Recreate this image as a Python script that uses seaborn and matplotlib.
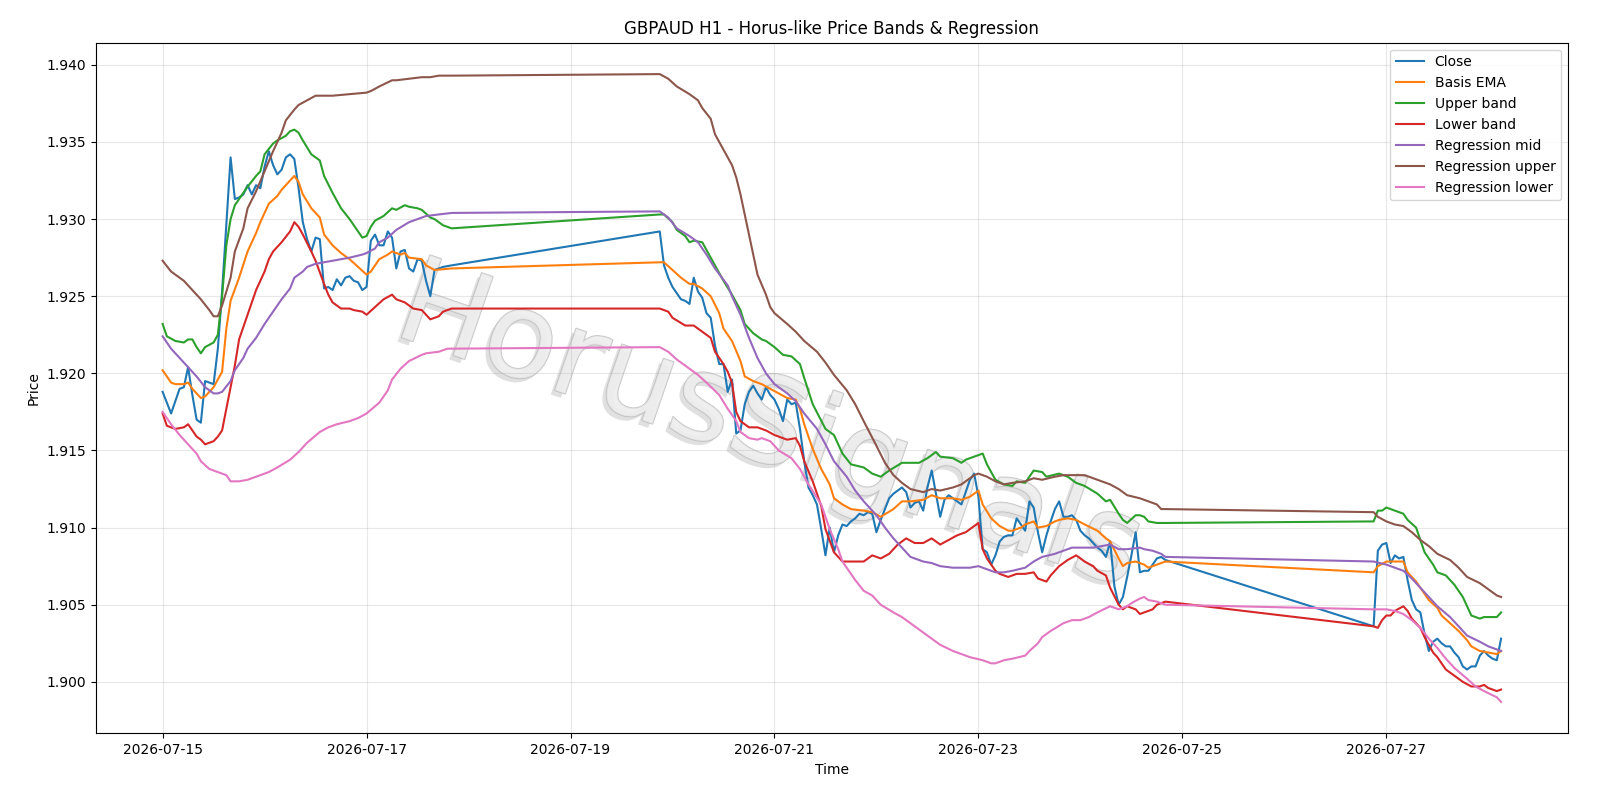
import numpy as np
import pandas as pd
import seaborn as sns
import matplotlib
matplotlib.use('Agg')
import matplotlib.pyplot as plt
import matplotlib.dates as mdates
import matplotlib.patheffects as pe

# hours since 2026-07-15 00:00 and prices
close_hours = [0, 2, 4, 5, 6, 7, 8, 9, 10, 11, 12, 13, 14, 15, 16, 17, 18, 19, 20, 21, 22, 23, 24, 25,
               26, 27, 28, 29, 30, 31, 32, 33, 34, 35, 36, 37, 38, 39, 40, 41, 42, 43, 44, 45, 46, 47,
               48, 49, 50, 51, 52, 53, 54, 55, 56, 57, 58, 59, 60, 61, 62, 63, 64, 65, 66, 68,
               117, 118, 119, 120, 121, 122, 123, 124, 125, 126, 127, 128, 129, 130, 131, 132, 133, 134,
               135, 136, 137, 138, 139, 140, 141, 142, 143, 144, 145, 146, 147, 148, 149, 150, 151, 152,
               153, 154, 155, 156, 157, 158, 159, 160, 161, 162, 163, 164, 165, 166, 167, 168, 169, 170,
               171, 172, 173, 174, 175, 176, 177, 178, 179, 180, 181, 182, 183, 184, 185, 186, 187, 188,
               189, 190, 191, 192, 193, 194, 195, 196, 197, 198, 199, 200, 201, 202, 203, 204, 205, 206,
               207, 208, 209, 210, 211, 212, 213, 214, 215, 216, 217, 218, 219, 220, 221, 222, 223, 224,
               225, 226, 227, 228, 229, 230, 231, 232, 233, 234, 235, 236,
               285, 286, 287, 288, 289, 290, 291, 292, 293, 294, 295, 296, 297, 298, 299, 300, 301, 302,
               303, 304, 305, 306, 307, 308, 309, 310, 311, 312, 313, 314, 315]
close_vals = [1.9188, 1.9174, 1.9190, 1.9191, 1.9204, 1.9186, 1.9170, 1.9168, 1.9195, 1.9194, 1.9193,
              1.9216, 1.9253, 1.9296, 1.9340, 1.9313, 1.9314, 1.9316, 1.9322, 1.9316, 1.9322, 1.9320,
              1.9334, 1.9344, 1.9335, 1.9329, 1.9332, 1.9340, 1.9342, 1.9339, 1.9320, 1.9298, 1.9287,
              1.9279, 1.9288, 1.9287, 1.9255, 1.9256, 1.9254, 1.9261, 1.9257, 1.9262, 1.9263, 1.9260,
              1.9259, 1.9254, 1.9256, 1.9286, 1.9290, 1.9283, 1.9283, 1.9292, 1.9288, 1.9268, 1.9279,
              1.9280, 1.9268, 1.9266, 1.9274, 1.9273, 1.9260, 1.9250, 1.9267, 1.9268, 1.9269, 1.9270,
              1.9292, 1.9270, 1.9262, 1.9256, 1.9252, 1.9248, 1.9247, 1.9245, 1.9262, 1.9253, 1.9249,
              1.9239, 1.9236, 1.9218, 1.9206, 1.9206, 1.9188, 1.9196, 1.9161, 1.9163, 1.9180, 1.9188,
              1.9192, 1.9187, 1.9183, 1.9191, 1.9186, 1.9183, 1.9177, 1.9169, 1.9183, 1.9180, 1.9181,
              1.9164, 1.9143, 1.9126, 1.9121, 1.9115, 1.9099, 1.9082, 1.9100, 1.9084, 1.9095, 1.9102,
              1.9101, 1.9104, 1.9106, 1.9109, 1.9108, 1.9110, 1.9109, 1.9097, 1.9105, 1.9112, 1.9119,
              1.9122, 1.9124, 1.9126, 1.9123, 1.9113, 1.9116, 1.9117, 1.9111, 1.9126, 1.9137, 1.9122,
              1.9107, 1.9118, 1.9121, 1.9119, 1.9117, 1.9115, 1.9123, 1.9131, 1.9135, 1.9120, 1.9086,
              1.9084, 1.9076, 1.9082, 1.9091, 1.9094, 1.9095, 1.9095, 1.9106, 1.9102, 1.9098, 1.9117,
              1.9113, 1.9097, 1.9084, 1.9095, 1.9104, 1.9112, 1.9117, 1.9107, 1.9107, 1.9108, 1.9105,
              1.9098, 1.9095, 1.9093, 1.9090, 1.9087, 1.9085, 1.9081, 1.9091, 1.9062, 1.9050, 1.9055,
              1.9068, 1.9082, 1.9097, 1.9071, 1.9072, 1.9072, 1.9076, 1.9080, 1.9081, 1.9079,
              1.9036, 1.9085, 1.9089, 1.9090, 1.9077, 1.9082, 1.9080, 1.9081, 1.9066, 1.9053, 1.9047,
              1.9045, 1.9031, 1.9020, 1.9026, 1.9028, 1.9025, 1.9023, 1.9023, 1.9019, 1.9016, 1.9010,
              1.9008, 1.9010, 1.9010, 1.9017, 1.9020, 1.9017, 1.9015, 1.9014, 1.9028]

ema_hours = [0, 2, 3, 5, 6, 7, 9, 10, 12, 14, 15, 16, 18, 20, 22, 23, 25, 27, 28, 30, 31, 32, 33, 35,
             37, 38, 40, 42, 44, 46, 48, 49, 50, 51, 53, 54, 56, 57, 58, 61, 62, 64, 68,
             117, 118, 120, 122, 124, 125, 127, 129, 131, 132, 134, 136, 137, 139, 141, 143, 145, 147,
             149, 150, 151, 153, 155, 157, 158, 160, 162, 165, 167, 169, 172, 174, 176, 179, 181, 183,
             186, 188, 190, 192, 193, 195, 197, 199, 200, 202, 203, 205, 206, 208, 210, 211, 213, 215,
             217, 220, 222, 223, 225, 226, 227, 229, 231, 232, 234, 236,
             285, 286, 288, 290, 292, 293, 295, 296, 298, 300, 301, 303, 305, 307, 308, 310, 312, 314, 315]
ema_vals = [1.9202, 1.9194, 1.9193, 1.9193, 1.9194, 1.9190, 1.9184, 1.9185, 1.9191, 1.9201, 1.9229,
            1.9247, 1.9262, 1.9279, 1.9291, 1.9298, 1.9310, 1.9315, 1.9319, 1.9325, 1.9328, 1.9324,
            1.9316, 1.9307, 1.9301, 1.9290, 1.9283, 1.9278, 1.9274, 1.9269, 1.9264, 1.9266, 1.9270,
            1.9274, 1.9277, 1.9279, 1.9277, 1.9278, 1.9275, 1.9274, 1.9270, 1.9267, 1.9268,
            1.9272, 1.9272, 1.9267, 1.9262, 1.9258, 1.9258, 1.9255, 1.9250, 1.9239, 1.9229, 1.9221,
            1.9208, 1.9198, 1.9195, 1.9193, 1.9190, 1.9187, 1.9184, 1.9183, 1.9177, 1.9167, 1.9151,
            1.9138, 1.9128, 1.9119, 1.9115, 1.9112, 1.9111, 1.9110, 1.9107, 1.9112, 1.9117, 1.9117,
            1.9118, 1.9121, 1.9119, 1.9119, 1.9118, 1.9120, 1.9124, 1.9115, 1.9106, 1.9101, 1.9098,
            1.9098, 1.9100, 1.9102, 1.9104, 1.9100, 1.9101, 1.9104, 1.9105, 1.9106, 1.9105, 1.9102,
            1.9098, 1.9093, 1.9091, 1.9080, 1.9075, 1.9077, 1.9078, 1.9076, 1.9074, 1.9076, 1.9078,
            1.9071, 1.9075, 1.9078, 1.9078, 1.9078, 1.9071, 1.9065, 1.9061, 1.9053, 1.9048, 1.9043,
            1.9038, 1.9033, 1.9027, 1.9023, 1.9020, 1.9019, 1.9018, 1.9020]

upper_hours = [0, 1, 3, 5, 6, 7, 8, 9, 10, 12, 13, 14, 15, 16, 17, 19, 20, 22, 23, 24, 26, 27, 29, 30,
               31, 32, 33, 35, 37, 38, 40, 42, 44, 46, 47, 48, 49, 50, 52, 54, 55, 57, 58, 60, 61, 63,
               64, 66, 68,
               117, 118, 120, 121, 123, 124, 125, 127, 128, 130, 132, 134, 136, 137, 139, 141, 142, 144,
               146, 148, 150, 151, 153, 156, 158, 160, 162, 165, 167, 169, 171, 174, 176, 178, 180, 182,
               183, 186, 188, 189, 191, 193, 194, 196, 198, 200, 201, 203, 205, 207, 208, 211, 213, 215,
               217, 220, 222, 223, 225, 226, 227, 229, 230, 231, 232, 234, 236,
               285, 286, 287, 288, 289, 291, 292, 293, 295, 296, 297, 299, 300, 302, 304, 306, 307, 308,
               310, 311, 313, 314, 315]
upper_vals = [1.9232, 1.9224, 1.9221, 1.9220, 1.9222, 1.9222, 1.9217, 1.9213, 1.9217, 1.9220, 1.9225,
              1.9250, 1.9283, 1.9300, 1.9309, 1.9317, 1.9321, 1.9328, 1.9331, 1.9342, 1.9349, 1.9351,
              1.9354, 1.9357, 1.9358, 1.9356, 1.9351, 1.9342, 1.9338, 1.9328, 1.9317, 1.9307, 1.9300,
              1.9292, 1.9288, 1.9289, 1.9295, 1.9299, 1.9302, 1.9307, 1.9306, 1.9309, 1.9308, 1.9307,
              1.9306, 1.9301, 1.9300, 1.9296, 1.9294,
              1.9303, 1.9303, 1.9298, 1.9293, 1.9289, 1.9285, 1.9286, 1.9285, 1.9280, 1.9270, 1.9260,
              1.9251, 1.9241, 1.9232, 1.9226, 1.9222, 1.9221, 1.9217, 1.9212, 1.9211, 1.9206, 1.9197,
              1.9180, 1.9164, 1.9160, 1.9148, 1.9141, 1.9139, 1.9135, 1.9133, 1.9137, 1.9142, 1.9142,
              1.9142, 1.9145, 1.9149, 1.9146, 1.9145, 1.9142, 1.9144, 1.9146, 1.9148, 1.9141, 1.9131,
              1.9128, 1.9127, 1.9130, 1.9129, 1.9137, 1.9136, 1.9133, 1.9135, 1.9133, 1.9129, 1.9127,
              1.9122, 1.9117, 1.9118, 1.9109, 1.9105, 1.9103, 1.9108, 1.9108, 1.9107, 1.9104, 1.9103,
              1.9103,
              1.9104, 1.9111, 1.9111, 1.9113, 1.9112, 1.9110, 1.9109, 1.9105, 1.9100, 1.9092, 1.9084,
              1.9076, 1.9071, 1.9069, 1.9063, 1.9055, 1.9049, 1.9043, 1.9041, 1.9042, 1.9042, 1.9042,
              1.9045]

lower_hours = [0, 1, 3, 5, 6, 8, 9, 10, 12, 13, 14, 15, 17, 18, 20, 22, 24, 25, 26, 28, 30, 31, 32, 33,
               35, 36, 38, 39, 40, 42, 44, 45, 47, 48, 50, 52, 54, 55, 57, 59, 61, 62, 63, 65, 66, 68,
               117, 119, 120, 123, 125, 127, 129, 130, 132, 133, 134, 135, 136, 138, 140, 142, 144, 147,
               149, 150, 151, 153, 155, 156, 158, 160, 162, 165, 167, 169, 171, 173, 175, 177, 179, 181,
               183, 185, 187, 189, 191, 192, 193, 194, 196, 197, 199, 201, 203, 205, 206, 208, 209, 211,
               213, 215, 217, 219, 220, 222, 223, 225, 226, 227, 229, 230, 232, 233, 234, 236,
               285, 286, 287, 288, 289, 290, 292, 293, 294, 295, 296, 297, 299, 300, 302, 304, 306, 308,
               310, 311, 312, 314, 315]
lower_vals = [1.9174, 1.9166, 1.9164, 1.9165, 1.9167, 1.9159, 1.9157, 1.9154, 1.9156, 1.9159, 1.9163,
              1.9177, 1.9205, 1.9222, 1.9238, 1.9254, 1.9266, 1.9274, 1.9279, 1.9285, 1.9292, 1.9298,
              1.9295, 1.9290, 1.9279, 1.9273, 1.9258, 1.9251, 1.9246, 1.9242, 1.9242, 1.9241, 1.9240,
              1.9238, 1.9243, 1.9248, 1.9251, 1.9248, 1.9246, 1.9242, 1.9241, 1.9238, 1.9235, 1.9237,
              1.9240, 1.9242,
              1.9242, 1.9240, 1.9236, 1.9231, 1.9231, 1.9227, 1.9223, 1.9214, 1.9206, 1.9201, 1.9194,
              1.9175, 1.9169, 1.9165, 1.9165, 1.9163, 1.9160, 1.9157, 1.9158, 1.9153, 1.9143, 1.9130,
              1.9114, 1.9099, 1.9084, 1.9078, 1.9078, 1.9078, 1.9082, 1.9080, 1.9083, 1.9089, 1.9093,
              1.9090, 1.9090, 1.9093, 1.9089, 1.9092, 1.9095, 1.9097, 1.9101, 1.9103, 1.9086, 1.9080,
              1.9072, 1.9070, 1.9068, 1.9070, 1.9070, 1.9071, 1.9067, 1.9065, 1.9069, 1.9075, 1.9079,
              1.9082, 1.9078, 1.9075, 1.9072, 1.9069, 1.9061, 1.9050, 1.9047, 1.9049, 1.9047, 1.9044,
              1.9046, 1.9047, 1.9050, 1.9052,
              1.9036, 1.9035, 1.9040, 1.9043, 1.9043, 1.9046, 1.9049, 1.9046, 1.9041, 1.9038, 1.9035,
              1.9029, 1.9019, 1.9016, 1.9008, 1.9004, 1.9000, 1.8997, 1.8997, 1.8998, 1.8996, 1.8994,
              1.8995]

reg_mid_hours = [0, 2, 4, 6, 8, 10, 12, 13, 14, 16, 17, 19, 20, 22, 24, 26, 28, 30, 31, 33, 34, 36, 38,
                 40, 42, 44, 47, 48, 50, 51, 53, 55, 58, 60, 62, 65, 68,
                 117, 119, 121, 124, 126, 128, 130, 133, 134, 136, 138, 140, 142, 144, 147, 149, 151, 154,
                 156, 158, 161, 163, 165, 168, 170, 172, 174, 176, 179, 181, 183, 186, 188, 190, 192, 194,
                 196, 198, 200, 203, 205, 207, 210, 212, 214, 217, 219, 221, 223, 225, 227, 230, 231, 233,
                 235, 236,
                 285, 288, 290, 292, 294, 296, 298, 300, 303, 305, 307, 310, 312, 314, 315]
reg_mid_vals = [1.9224, 1.9216, 1.9210, 1.9204, 1.9198, 1.9191, 1.9187, 1.9187, 1.9188, 1.9195, 1.9202,
                1.9210, 1.9216, 1.9223, 1.9232, 1.9240, 1.9248, 1.9255, 1.9262, 1.9266, 1.9269, 1.9271,
                1.9272, 1.9273, 1.9274, 1.9275, 1.9277, 1.9278, 1.9281, 1.9285, 1.9288, 1.9293, 1.9298,
                1.9300, 1.9302, 1.9303, 1.9304,
                1.9305, 1.9301, 1.9294, 1.9289, 1.9285, 1.9277, 1.9268, 1.9257, 1.9250, 1.9238, 1.9223,
                1.9210, 1.9200, 1.9193, 1.9187, 1.9182, 1.9174, 1.9164, 1.9154, 1.9143, 1.9133, 1.9124,
                1.9117, 1.9108, 1.9100, 1.9093, 1.9087, 1.9081, 1.9078, 1.9077, 1.9075, 1.9074, 1.9074,
                1.9074, 1.9075, 1.9073, 1.9071, 1.9071, 1.9072, 1.9074, 1.9078, 1.9081, 1.9083, 1.9085,
                1.9087, 1.9087, 1.9087, 1.9088, 1.9089, 1.9086, 1.9086, 1.9087, 1.9086, 1.9085, 1.9083,
                1.9081,
                1.9078, 1.9076, 1.9074, 1.9072, 1.9067, 1.9061, 1.9055, 1.9049, 1.9042, 1.9036, 1.9030,
                1.9026, 1.9023, 1.9021, 1.9020]

reg_up_hours = [0, 2, 5, 7, 9, 11, 12, 13, 14, 16, 17, 19, 20, 22, 24, 26, 28, 29, 31, 32, 34, 36, 40,
                44, 48, 49, 51, 54, 55, 58, 61, 63, 65, 68,
                117, 119, 121, 124, 126, 127, 129, 130, 132, 134, 135, 136, 137, 138, 139, 140, 142, 143,
                144, 147, 149, 151, 154, 156, 158, 161, 163, 165, 168, 170, 172, 174, 176, 179, 181, 183,
                186, 188, 189, 191, 192, 194, 196, 198, 200, 203, 205, 207, 210, 212, 214, 217, 219, 221,
                223, 225, 227, 230, 232, 234, 235, 236,
                285, 286, 288, 290, 292, 294, 296, 298, 300, 303, 305, 307, 310, 312, 314, 315]
reg_up_vals = [1.9273, 1.9266, 1.9260, 1.9254, 1.9248, 1.9241, 1.9237, 1.9237, 1.9244, 1.9262, 1.9279,
               1.9294, 1.9307, 1.9318, 1.9331, 1.9344, 1.9356, 1.9364, 1.9371, 1.9374, 1.9377, 1.9380,
               1.9380, 1.9381, 1.9382, 1.9383, 1.9386, 1.9390, 1.9390, 1.9391, 1.9392, 1.9392, 1.9393,
               1.9393,
               1.9394, 1.9391, 1.9386, 1.9381, 1.9377, 1.9372, 1.9365, 1.9355, 1.9345, 1.9335, 1.9327,
               1.9316, 1.9303, 1.9290, 1.9277, 1.9264, 1.9251, 1.9243, 1.9239, 1.9232, 1.9227, 1.9221,
               1.9214, 1.9207, 1.9199, 1.9189, 1.9180, 1.9169, 1.9153, 1.9142, 1.9134, 1.9129, 1.9125,
               1.9123, 1.9125, 1.9124, 1.9126, 1.9128, 1.9130, 1.9134, 1.9135, 1.9133, 1.9130, 1.9128,
               1.9129, 1.9130, 1.9132, 1.9131, 1.9133, 1.9134, 1.9134, 1.9134, 1.9132, 1.9130, 1.9128,
               1.9125, 1.9121, 1.9119, 1.9117, 1.9115, 1.9112, 1.9112,
               1.9110, 1.9107, 1.9104, 1.9102, 1.9101, 1.9097, 1.9092, 1.9088, 1.9083, 1.9079, 1.9074,
               1.9068, 1.9064, 1.9060, 1.9056, 1.9055]

reg_low_hours = [0, 2, 4, 6, 8, 9, 11, 13, 15, 16, 18, 20, 23, 25, 27, 30, 32, 34, 37, 39, 41, 44, 46,
                 48, 51, 53, 54, 56, 58, 61, 62, 65, 67, 68,
                 117, 119, 121, 124, 126, 128, 131, 133, 135, 136, 138, 140, 141, 143, 145, 148, 150, 152,
                 155, 157, 159, 160, 163, 165, 167, 169, 172, 174, 176, 179, 181, 183, 186, 188, 190, 193,
                 195, 196, 198, 200, 203, 204, 206, 207, 209, 212, 214, 216, 218, 220, 223, 225, 227, 228,
                 230, 231, 232, 234, 236,
                 285, 288, 290, 292, 294, 296, 298, 300, 302, 304, 307, 309, 311, 314, 315]
reg_low_vals = [1.9175, 1.9167, 1.9160, 1.9154, 1.9148, 1.9143, 1.9138, 1.9136, 1.9134, 1.9130, 1.9130,
                1.9131, 1.9134, 1.9136, 1.9139, 1.9144, 1.9149, 1.9155, 1.9162, 1.9165, 1.9167, 1.9169,
                1.9171, 1.9174, 1.9181, 1.9189, 1.9196, 1.9203, 1.9208, 1.9212, 1.9213, 1.9214, 1.9216,
                1.9216,
                1.9217, 1.9214, 1.9209, 1.9203, 1.9199, 1.9194, 1.9186, 1.9177, 1.9169, 1.9162, 1.9158,
                1.9157, 1.9158, 1.9156, 1.9150, 1.9145, 1.9138, 1.9128, 1.9115, 1.9099, 1.9086, 1.9078,
                1.9066, 1.9059, 1.9056, 1.9050, 1.9045, 1.9042, 1.9038, 1.9032, 1.9028, 1.9024, 1.9020,
                1.9018, 1.9016, 1.9014, 1.9012, 1.9012, 1.9014, 1.9015, 1.9017, 1.9020, 1.9025, 1.9029,
                1.9033, 1.9038, 1.9040, 1.9040, 1.9042, 1.9045, 1.9049, 1.9047, 1.9049, 1.9051, 1.9054,
                1.9055, 1.9053, 1.9052, 1.9050,
                1.9047, 1.9047, 1.9046, 1.9044, 1.9040, 1.9035, 1.9028, 1.9022, 1.9015, 1.9009, 1.9002,
                1.8997, 1.8994, 1.8990, 1.8987]

start = pd.Timestamp('2026-07-15 00:00')


def to_times(hours):
    return start + pd.to_timedelta(hours, unit='h')


series = [
    ('Close', close_hours, close_vals),
    ('Basis EMA', ema_hours, ema_vals),
    ('Upper band', upper_hours, upper_vals),
    ('Lower band', lower_hours, lower_vals),
    ('Regression mid', reg_mid_hours, reg_mid_vals),
    ('Regression upper', reg_up_hours, reg_up_vals),
    ('Regression lower', reg_low_hours, reg_low_vals),
]
colors = sns.color_palette('tab10', 7)

fig, ax = plt.subplots(figsize=(16, 8), dpi=100)
fig.subplots_adjust(left=0.0598, right=0.98, top=0.9466, bottom=0.0834)

for (name, hrs, vals), col in zip(series, colors):
    sns.lineplot(x=to_times(hrs), y=vals, ax=ax, label=name, color=col, linewidth=1.5)

# watermark: pale letters with a thin grey edge and a soft shadow
ax.text(0.458, 0.44, 'HorusSignals', transform=ax.transAxes, fontsize=86, rotation=-19,
        color='#eeeeee', alpha=0.75, ha='center', va='center', zorder=0.5,
        path_effects=[pe.SimplePatchShadow(offset=(-3, -3), shadow_rgbFace='#bbbbbb', alpha=0.45),
                      pe.Stroke(linewidth=1.2, foreground='#b5b5b5'),
                      pe.Normal()])

ax.xaxis.set_major_locator(mdates.DayLocator(interval=2))
ax.xaxis.set_major_formatter(mdates.DateFormatter('%Y-%m-%d'))
ax.set_title('GBPAUD H1 - Horus-like Price Bands & Regression')
ax.set_xlabel('Time')
ax.set_ylabel('Price')
ax.grid(True, alpha=0.3)
ax.legend(loc='upper right')

plt.savefig('out.png')
